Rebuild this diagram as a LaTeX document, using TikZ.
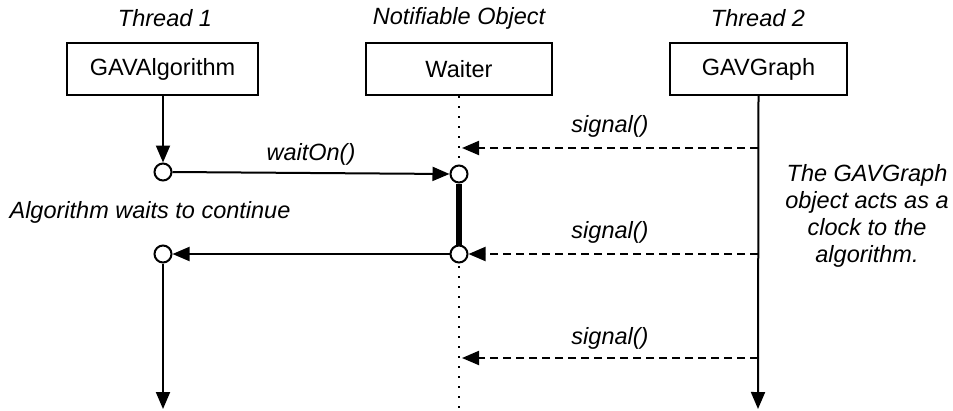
\documentclass[tikz,border=0pt]{standalone}
\usepackage{fontspec}
\setmainfont{Liberation Sans}
\usetikzlibrary{arrows.meta}
\begin{document}
\begin{tikzpicture}[x=1pt,y=-1pt,
  txt/.style={font=\fontsize{23.5}{27}\selectfont},
  lbl/.style={font=\fontsize{23.5}{27}\selectfont\itshape, inner sep=0},
  obj/.style={draw, line width=2pt, minimum height=52pt, inner sep=0, txt},
  port/.style={circle, draw, fill=white, line width=2pt, minimum size=17pt, inner sep=0},
  tip/.style={-{Triangle[length=17pt,width=14pt]}},
  msg/.style={line width=2pt, tip},
  sig/.style={msg, dash pattern=on 8pt off 5pt},
  life/.style={line width=2.2pt, dash pattern=on 2.2pt off 7.8pt},
  act/.style={line width=6.5pt}
]
\useasboundingbox (0,0) rectangle (953,410);

% headers
\node[lbl] (t1) at (165,18) {Thread 1};
\node[lbl] (t0) at (459,18) {Notifiable Object};
\node[lbl] (t2) at (758,18) {Thread 2};

% objects
\node[obj, minimum width=191pt] (alg) at (162.5,69) {GAVAlgorithm};
\node[obj, minimum width=186pt] (wt) at (459,69) {Waiter};
\node[obj, minimum width=177pt] (gr) at (758.5,69) {GAVGraph};

% coordinates
\coordinate (wend) at (459,410);
\coordinate (aend) at (163,409);
\coordinate (gend) at (758,409);
\coordinate (g1) at (758,148);
\coordinate (g2) at (758,254);
\coordinate (g3) at (758,358);
\coordinate (w1) at (459,148);
\coordinate (w3) at (459,358);

% Waiter lifeline
\draw[life] (wt.south) -- (wend);

% ports
\node[port] (c1) at (163,172) {};
\node[port] (c2) at (459,174) {};
\node[port] (c3) at (459,254) {};
\node[port] (c4) at (163,254) {};

% activation bar
\draw[act] (c2.south) -- (c3.north);

% thread 1
\draw[msg] (alg.south -| c1) -- (c1.north);
\draw[msg] (c1.east) -- node[lbl, above=7pt] (lw) {waitOn()} (c2.west);
\draw[msg] (c3.west) -- (c4.east);
\draw[msg] (c4.south) -- (aend);

% thread 2
\draw[msg] (gr.south) -- (gend);
\draw[sig, shorten >=3pt] (g1) -- (w1);
\draw[sig] (g2) -- (c3.east);
\draw[sig, shorten >=3pt] (g3) -- (w3);

% labels
\node[lbl] (s1) at (610,126) {signal()};
\node[lbl] (s2) at (610,232) {signal()};
\node[lbl] (s3) at (610,338) {signal()};
\node[lbl] (aw) at (150,212) {Algorithm waits to continue};
\node[lbl, align=center] (note) at (867,216)
  {The GAVGraph\\object acts as a\\clock to the\\algorithm.};
\end{tikzpicture}
\end{document}
